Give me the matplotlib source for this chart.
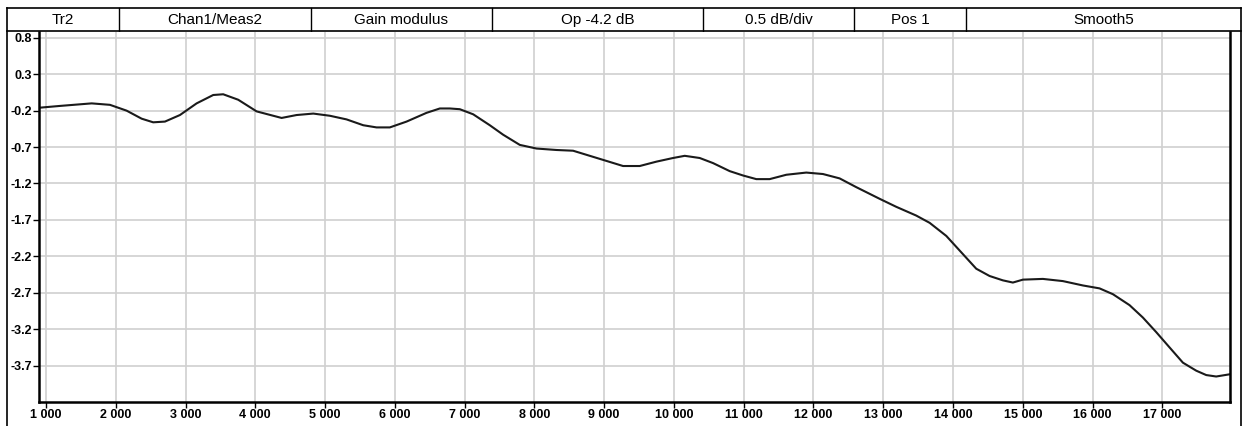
import matplotlib.pyplot as plt
from matplotlib.ticker import FuncFormatter

plt.rcParams['font.family'] = ['Liberation Sans', 'DejaVu Sans']

# header cells: labels and right edges (pixels)
header_labels = ['Tr2', 'Chan1/Meas2', 'Gain modulus', 'Op -4.2 dB', '0.5 dB/div', 'Pos 1', 'Smooth5']
header_edges = [7, 119, 311, 492, 703, 854, 966, 1241]

# trace (Hz, dB)
freq = [900, 1200, 1655, 1917, 2156, 2371, 2537, 2705, 2920, 3159, 3397, 3540, 3755,
        4019, 4377, 4592, 4831, 5069, 5308, 5547, 5738, 5928, 6168, 6454, 6645, 6788,
        6931, 7123, 7361, 7552, 7791, 8030, 8317, 8555, 8794, 9033, 9271, 9510, 9749,
        9987, 10155, 10370, 10561, 10799, 10990, 11181, 11372, 11611, 11897, 12136,
        12375, 12613, 12948, 13186, 13472, 13665, 13904, 14047, 14190, 14333, 14524,
        14715, 14858, 15002, 15288, 15575, 15862, 16100, 16292, 16530, 16721, 16912,
        17103, 17295, 17486, 17629, 17772, 17963]
gain = [-0.16, -0.135, -0.10, -0.12, -0.20, -0.31, -0.36, -0.35, -0.26, -0.10, 0.015, 0.025, -0.05,
        -0.21, -0.30, -0.26, -0.24, -0.27, -0.32, -0.40, -0.43, -0.43, -0.35, -0.23, -0.17, -0.17,
        -0.18, -0.25, -0.40, -0.53, -0.67, -0.72, -0.74, -0.75, -0.82, -0.89, -0.96, -0.96, -0.90,
        -0.85, -0.82, -0.85, -0.92, -1.03, -1.09, -1.14, -1.14, -1.08, -1.05, -1.07,
        -1.13, -1.25, -1.41, -1.52, -1.64, -1.74, -1.92, -2.07, -2.22, -2.37, -2.47,
        -2.53, -2.56, -2.52, -2.51, -2.54, -2.60, -2.64, -2.72, -2.87, -3.04, -3.24,
        -3.45, -3.66, -3.77, -3.83, -3.85, -3.82]

xticks = list(range(1000, 18000, 1000))
yticks = [0.8, 0.3, -0.2, -0.7, -1.2, -1.7, -2.2, -2.7, -3.2, -3.7]

W, H = 1242, 426
fig = plt.figure(figsize=(W / 100, H / 100), dpi=100)

# outer frame + header
frame = fig.add_axes([0, 0, 1, 1])
frame.set_xlim(0, W)
frame.set_ylim(H, 0)
frame.axis('off')
frame.plot([7, 1241], [8, 8], color='black', lw=1.2)
frame.plot([7, 1241], [31, 31], color='black', lw=1.2)
frame.plot([7, 7], [8, H], color='black', lw=1.2)
frame.plot([1241, 1241], [8, H], color='black', lw=1.2)
for e in header_edges[1:-1]:
    frame.plot([e, e], [8, 31], color='black', lw=1.0)
for i, lab in enumerate(header_labels):
    cx = (header_edges[i] + header_edges[i + 1]) / 2
    frame.text(cx, 20, lab, ha='center', va='center', fontsize=11)

ax = fig.add_axes([39 / W, (H - 402) / H, (1230 - 39) / W, (402 - 32) / H])
ax.plot(freq, gain, color='#1a1a1a', lw=1.5)
ax.set_xlim(900, 17970)
ax.set_ylim(-4.2, 0.88)
ax.set_xticks(xticks)
ax.set_yticks(yticks)
ax.xaxis.set_major_formatter(FuncFormatter(lambda v, p: f'{int(v):,}'.replace(',', ' ')))
ax.yaxis.set_major_formatter(FuncFormatter(lambda v, p: f'{v:.1f}'))
ax.grid(True, color='#d0d0d0', lw=1.2)
ax.spines['top'].set_visible(False)
for s in ['left', 'bottom', 'right']:
    ax.spines[s].set_linewidth(1.8)
ax.tick_params(axis='both', length=4, width=1, labelsize=9, pad=1)
for t in ax.get_xticklabels() + ax.get_yticklabels():
    t.set_fontweight('bold')

fig.savefig('out.png', dpi=100)
